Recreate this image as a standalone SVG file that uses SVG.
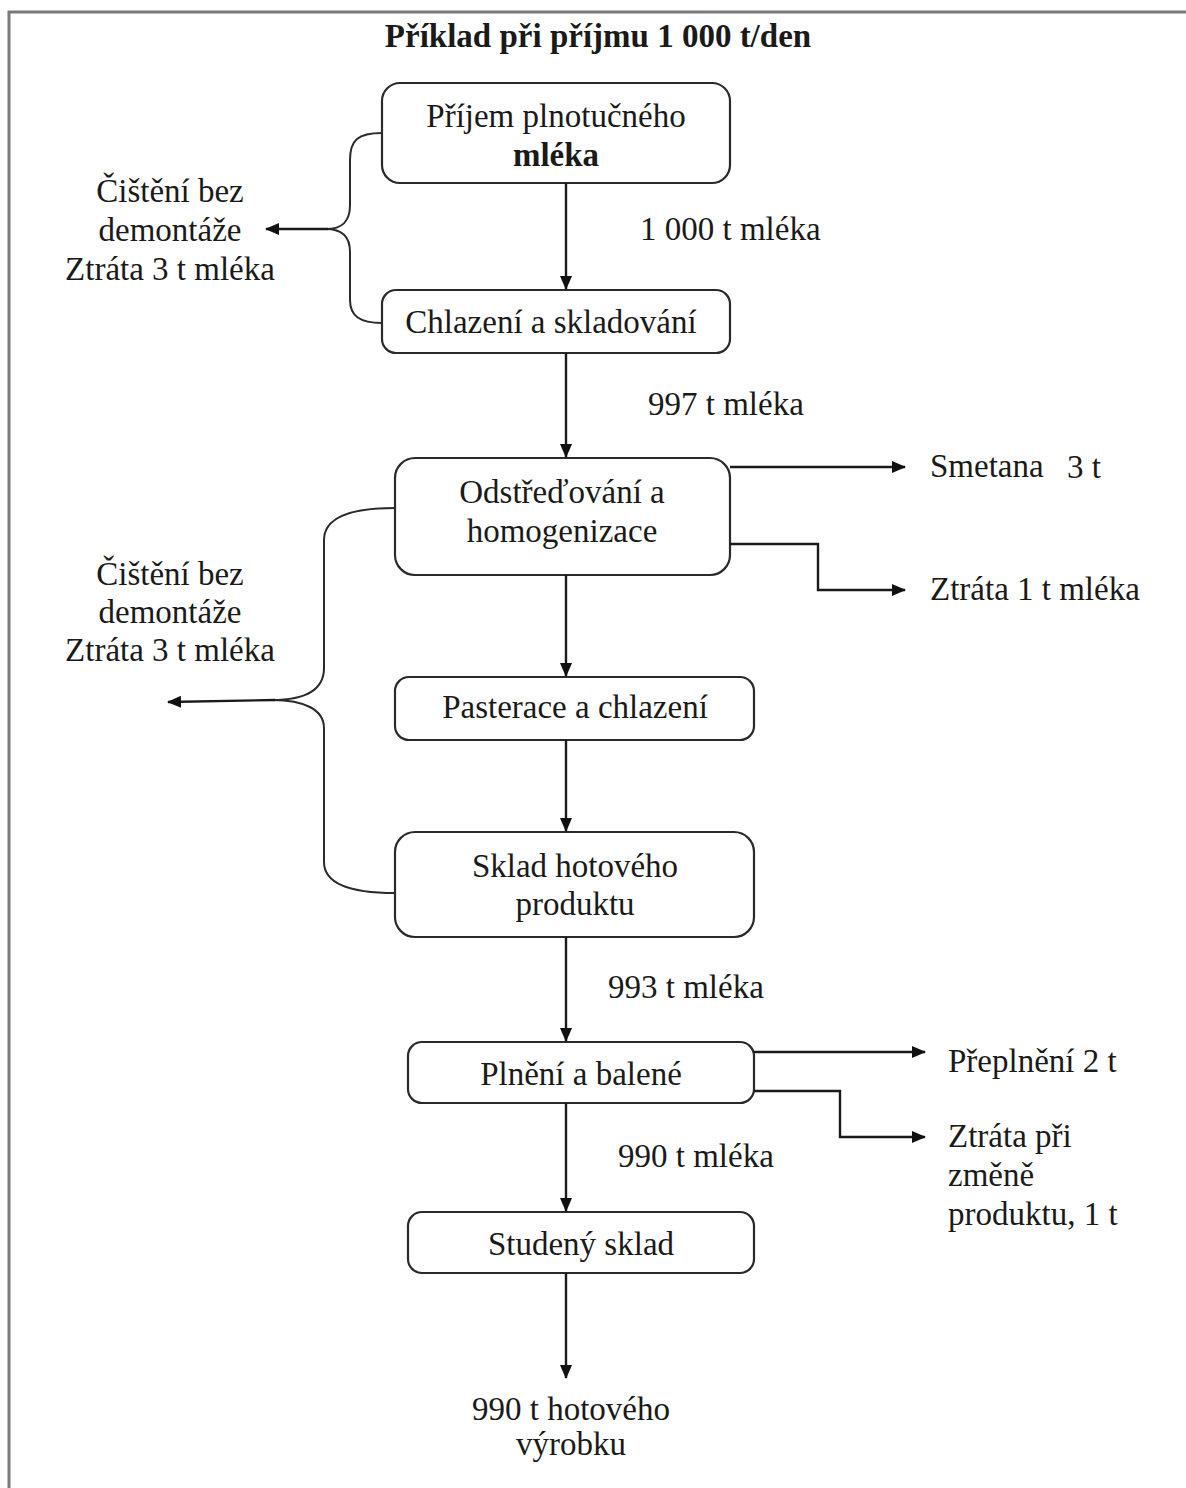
<svg xmlns="http://www.w3.org/2000/svg" width="1186" height="1488" viewBox="0 0 1186 1488">
  <defs>
    <marker id="ah" viewBox="0 0 14 12" refX="13" refY="6" markerWidth="14" markerHeight="12" markerUnits="userSpaceOnUse" orient="auto">
      <path d="M0,0 L14,6 L0,12 Z" fill="#111"/>
    </marker>
    <style>
      .frame { fill: none; stroke: #7a7a7a; stroke-width: 3; }
      .box { fill: #fff; stroke: #2a2a2a; stroke-width: 2.2; }
      .t { font-family: "Liberation Serif", "Times New Roman", serif; font-size: 33px; fill: #1a1a1a; }
      .c { text-anchor: middle; }
      .b { font-weight: bold; }
      .ln { fill: none; stroke: #1a1a1a; stroke-width: 2.4; }
      .br { fill: none; stroke: #2a2a2a; stroke-width: 2; }
    </style>
  </defs>
  <rect width="1186" height="1488" fill="#fff"/>
  <rect class="frame" x="9" y="12" width="1200" height="1500"/>

  <text class="t c b" x="598" y="47">Příklad při příjmu 1 000 t/den</text>

  <!-- process steps -->
  <g id="n-prijem">
    <rect class="box" x="382" y="83" width="348" height="100" rx="18"/>
    <text class="t c" x="556" y="127">Příjem plnotučného</text>
    <text class="t c b" x="556" y="166">mléka</text>
  </g>
  <g id="n-chlazeni">
    <rect class="box" x="382" y="290" width="348" height="63" rx="14"/>
    <text class="t c" x="551" y="333">Chlazení a skladování</text>
  </g>
  <g id="n-odstredovani">
    <rect class="box" x="395" y="458" width="335" height="117" rx="20"/>
    <text class="t c" x="562" y="503">Odstřeďování a</text>
    <text class="t c" x="562" y="542">homogenizace</text>
  </g>
  <g id="n-pasterace">
    <rect class="box" x="395" y="677" width="359" height="63" rx="14"/>
    <text class="t c" x="575" y="718">Pasterace a chlazení</text>
  </g>
  <g id="n-sklad">
    <rect class="box" x="395" y="832" width="359" height="105" rx="20"/>
    <text class="t c" x="575" y="877">Sklad hotového</text>
    <text class="t c" x="575" y="915">produktu</text>
  </g>
  <g id="n-plneni">
    <rect class="box" x="408" y="1042" width="346" height="61" rx="14"/>
    <text class="t c" x="581" y="1085">Plnění a balené</text>
  </g>
  <g id="n-studeny">
    <rect class="box" x="408" y="1212" width="346" height="61" rx="14"/>
    <text class="t c" x="581" y="1255">Studený sklad</text>
  </g>

  <!-- side outputs and flow labels -->
  <g id="labels">
    <text class="t c" x="170" y="202">Čištění bez</text>
    <text class="t c" x="170" y="241">demontáže</text>
    <text class="t c" x="170" y="280">Ztráta 3 t mléka</text>

    <text class="t c" x="170" y="585">Čištění bez</text>
    <text class="t c" x="170" y="623">demontáže</text>
    <text class="t c" x="170" y="661">Ztráta 3 t mléka</text>

    <text class="t" x="640" y="240">1 000 t mléka</text>
    <text class="t" x="648" y="415">997 t mléka</text>
    <text class="t" x="608" y="998">993 t mléka</text>
    <text class="t" x="618" y="1167">990 t mléka</text>

    <text class="t" x="930" y="477">Smetana</text>
    <text class="t" x="1067" y="478">3 t</text>
    <text class="t" x="930" y="600">Ztráta 1 t mléka</text>

    <text class="t" x="948" y="1072">Přeplnění 2 t</text>
    <text class="t" x="948" y="1147">Ztráta při</text>
    <text class="t" x="948" y="1186">změně</text>
    <text class="t" x="948" y="1225">produktu, 1 t</text>

    <text class="t c" x="571" y="1420">990 t hotového</text>
    <text class="t c" x="571" y="1455">výrobku</text>
  </g>

  <!-- connectors -->
  <g id="connectors">
    <path class="ln" d="M566,183 V289" marker-end="url(#ah)"/>
    <path class="ln" d="M566,353 V457" marker-end="url(#ah)"/>
    <path class="ln" d="M566,575 V676" marker-end="url(#ah)"/>
    <path class="ln" d="M566,740 V831" marker-end="url(#ah)"/>
    <path class="ln" d="M566,937 V1041" marker-end="url(#ah)"/>
    <path class="ln" d="M566,1103 V1211" marker-end="url(#ah)"/>
    <path class="ln" d="M566,1273 V1378" marker-end="url(#ah)"/>

    <path class="ln" d="M730,467 H905" marker-end="url(#ah)"/>
    <path class="ln" d="M730,544 H818 V590 H905" marker-end="url(#ah)"/>
    <path class="ln" d="M754,1052 H925" marker-end="url(#ah)"/>
    <path class="ln" d="M754,1091 H840 V1137 H925" marker-end="url(#ah)"/>

    <!-- brace joining the first two steps -->
    <path class="br" d="M382,133 C358,133 350,140 350,160 V205 C350,222 342,229 326,229"/>
    <path class="br" d="M326,229 C342,229 350,236 350,252 V300 C350,316 360,323 382,323"/>
    <path class="ln" d="M328,229 H266" marker-end="url(#ah)"/>

    <!-- brace joining steps three to five -->
    <path class="br" d="M395,508 C345,508 324,520 324,540 V668 C324,690 305,700 272,700"/>
    <path class="br" d="M272,700 C305,700 324,710 324,728 V862 C324,882 345,893 395,893"/>
    <path class="ln" d="M275,700 L168,702" marker-end="url(#ah)"/>
  </g>
</svg>
